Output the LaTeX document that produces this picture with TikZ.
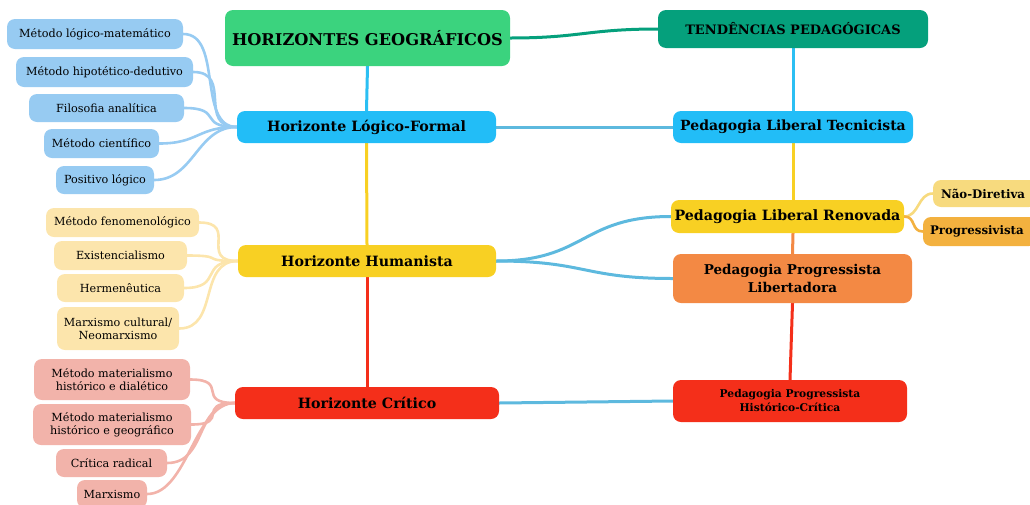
\documentclass[tikz,border=0pt]{standalone}
\usepackage{fontspec}
\setmainfont{DejaVu Serif}
\pgfdeclarelayer{bg}
\pgfsetlayers{bg,main}
\definecolor{cgreen}{HTML}{3BD37E}
\definecolor{cteal}{HTML}{05A07C}
\definecolor{cblue}{HTML}{22BDF7}
\definecolor{cyellow}{HTML}{F8D023}
\definecolor{cpaleyel}{HTML}{F7DA7E}
\definecolor{corangel}{HTML}{F3B13F}
\definecolor{corange}{HTML}{F38944}
\definecolor{cred}{HTML}{F42F1A}
\definecolor{lblue}{HTML}{97CBF2}
\definecolor{lyellow}{HTML}{FCE5AC}
\definecolor{lpink}{HTML}{F2B3AA}
\definecolor{linkblue}{HTML}{5DB9DE}
\definecolor{trunkblue}{HTML}{2BBFF3}
\tikzset{
  box/.style={rectangle, rounded corners=8pt, inner sep=0pt, align=center, text=black},
  hbox/.style={box, font=\bfseries},
  leaf/.style={box, font=\fontsize{11.2}{13}\selectfont},
  conn/.style={line width=3pt, line cap=round},
  lconn/.style={line width=2.6pt, line cap=round},
}
\begin{document}
\begin{tikzpicture}[x=1pt,y=-1pt]
\useasboundingbox (0,0) rectangle (1030,504);
% main nodes
\node[hbox, fill=cgreen, minimum width=285pt, minimum height=56pt, font=\bfseries\fontsize{16.2}{18}\selectfont] (hg) at (367.5,38) {HORIZONTES GEOGRÁFICOS};
\node[hbox, fill=cteal, minimum width=270pt, minimum height=38pt, font=\bfseries\fontsize{13}{14}\selectfont] (tp) at (793,29) {TENDÊNCIAS PEDAGÓGICAS};
\node[hbox, fill=cblue, minimum width=259pt, minimum height=32pt, font=\bfseries\fontsize{14.2}{16}\selectfont] (hlf) at (366.5,127) {Horizonte Lógico-Formal};
\node[hbox, fill=cblue, minimum width=240pt, minimum height=32pt, font=\bfseries\fontsize{14}{16}\selectfont] (plt) at (793,127) {Pedagogia Liberal Tecnicista};
\node[hbox, fill=cyellow, minimum width=258pt, minimum height=32pt, font=\bfseries\fontsize{14.2}{16}\selectfont] (hh) at (367,261) {Horizonte Humanista};
\node[hbox, fill=cyellow, minimum width=233pt, minimum height=33pt, font=\bfseries\fontsize{14.2}{16}\selectfont] (plr) at (787.5,216.5) {Pedagogia Liberal Renovada};
\node[hbox, fill=cpaleyel, minimum width=104pt, minimum height=27pt, font=\bfseries\fontsize{11.8}{14}\selectfont, text width=90pt, align=left] (nd) at (985,193.5) {\hspace*{1pt}Não-Diretiva};
\node[hbox, fill=corangel, minimum width=114pt, minimum height=29pt, font=\bfseries\fontsize{11.8}{14}\selectfont, text width=104pt, align=left] (prog) at (980,231.5) {\hspace*{2pt}Progressivista};
\node[hbox, fill=corange, minimum width=239pt, minimum height=49pt, font=\bfseries\fontsize{13.5}{18}\selectfont] (ppl) at (792.5,278.5) {Pedagogia Progressista\\Libertadora};
\node[hbox, fill=cred, minimum width=264pt, minimum height=32pt, font=\bfseries\fontsize{14.2}{16}\selectfont] (hc) at (367,403) {Horizonte Crítico};
\node[hbox, fill=cred, minimum width=234pt, minimum height=42pt, font=\bfseries\fontsize{10.7}{14}\selectfont] (pphc) at (790,401) {Pedagogia Progressista\\Histórico-Crítica};
% blue leaves
\node[leaf, fill=lblue, minimum width=176pt, minimum height=30pt] (b1) at (95,34) {Método lógico-matemático};
\node[leaf, fill=lblue, minimum width=177pt, minimum height=30pt] (b2) at (104.5,72) {Método hipotético-dedutivo};
\node[leaf, fill=lblue, minimum width=155pt, minimum height=28pt] (b3) at (106.5,108) {Filosofia analítica};
\node[leaf, fill=lblue, minimum width=115pt, minimum height=29pt] (b4) at (101.5,143.5) {Método científico};
\node[leaf, fill=lblue, minimum width=98pt, minimum height=28pt] (b5) at (105,180) {Positivo lógico};
% yellow leaves
\node[leaf, fill=lyellow, minimum width=153pt, minimum height=29pt] (y1) at (122.5,222.5) {Método fenomenológico};
\node[leaf, fill=lyellow, minimum width=133pt, minimum height=29pt] (y2) at (120.5,255.5) {Existencialismo};
\node[leaf, fill=lyellow, minimum width=127pt, minimum height=28pt] (y3) at (120.5,288) {Hermenêutica};
\node[leaf, fill=lyellow, minimum width=122pt, minimum height=43pt] (y4) at (118,328.5) {Marxismo cultural/\\Neomarxismo};
% pink leaves
\node[leaf, fill=lpink, minimum width=156pt, minimum height=41pt] (r1) at (112,379.5) {Método materialismo\\histórico e dialético};
\node[leaf, fill=lpink, minimum width=158pt, minimum height=41pt] (r2) at (112,424.5) {Método materialismo\\histórico e geográfico};
\node[leaf, fill=lpink, minimum width=111pt, minimum height=28pt] (r3) at (111.5,463) {Crítica radical};
\node[leaf, fill=lpink, minimum width=70pt, minimum height=28pt] (r4) at (112,494) {Marxismo};
\begin{pgfonlayer}{bg}
% trunks
\draw[conn, trunkblue] (hg.south) -- (hlf.north);
\draw[conn, cyellow] (hlf.south) -- (hh.north);
\draw[conn, cred] (hh.south) -- (hc.north);
\draw[conn, trunkblue] (tp.south) -- (plt.north);
\draw[conn, cyellow] (plt.south) -- (plr.north -| plt.south);
\draw[conn, corange] (plr.south -| plt.south) -- (ppl.north);
\draw[conn, cred] (ppl.south) -- (pphc.north);
\draw[conn, cteal] (hg.east) .. controls +(70,0) and +(-70,0) .. (tp.west);
% cross links
\draw[conn, linkblue] (hlf.east) -- (plt.west);
\draw[conn, linkblue] (hh.east) .. controls +(90,0) and +(-90,0) .. (plr.west);
\draw[conn, linkblue] (hh.east) .. controls +(90,0) and +(-90,0) .. (ppl.west);
\draw[conn, linkblue] (hc.east) -- (pphc.west);
% right leaves
\draw[lconn, cpaleyel] (plr.east) .. controls +(15,0) and +(-15,0) .. (nd.west);
\draw[lconn, corangel] (plr.east) .. controls +(12,0) and +(-12,0) .. (prog.west);
% left leaves
\foreach \n in {b1,b2,b3,b4,b5}
  \draw[lconn, lblue] (hlf.west) .. controls +(-40,0) and +(40,0) .. (\n.east);
\foreach \n in {y1,y2,y3,y4}
  \draw[lconn, lyellow] (hh.west) .. controls +(-40,0) and +(40,0) .. (\n.east);
\foreach \n in {r1,r2,r3,r4}
  \draw[lconn, lpink] (hc.west) .. controls +(-40,0) and +(40,0) .. (\n.east);
\end{pgfonlayer}
\end{tikzpicture}
\end{document}
